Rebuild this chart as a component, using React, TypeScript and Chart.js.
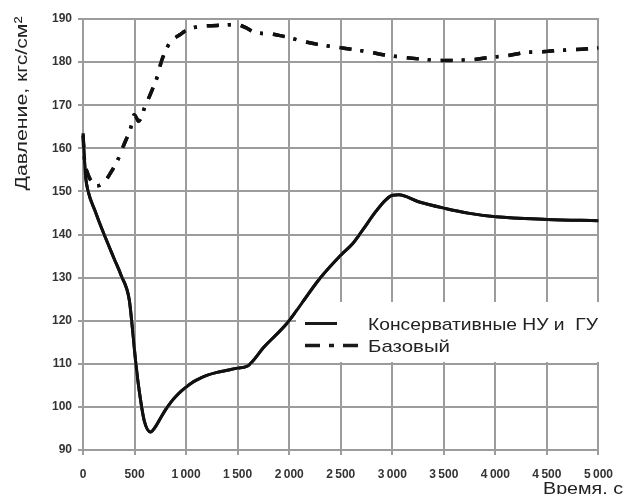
import React, { useEffect, useRef } from 'react';
import { Chart, registerables } from 'chart.js';

Chart.register(...registerables);

// ---- Data ----
const timeCons = [0, 10, 25, 50, 120, 180, 300, 370, 449, 481, 513, 545, 593, 655, 700, 750, 800, 850, 900, 950, 1000, 1050, 1100, 1200, 1300, 1400, 1500, 1596, 1756, 1979, 2297, 2500, 2617, 2712, 2839, 2935, 3005, 3062, 3254, 3505, 3750, 4003, 4503, 5000];
const pressureCons = [163.5, 159, 153.5, 150, 145.3, 141.5, 134.5, 130.5, 124.8, 117.8, 110, 103.8, 96.9, 94.2, 95.3, 97.3, 99.3, 101, 102.4, 103.6, 104.6, 105.5, 106.2, 107.3, 108, 108.5, 109, 109.5, 113.9, 119.4, 129.8, 135.2, 137.9, 141, 145.3, 148, 149.1, 149.2, 147.6, 146.1, 144.9, 144.1, 143.5, 143.2];

const timeBase = [0, 15, 40, 70, 137, 200, 260, 335, 400, 462, 497, 540, 600, 670, 727, 757, 793, 843, 943, 1023, 1141, 1300, 1470, 1530, 1580, 1675, 1794, 1900, 2010, 2122, 2280, 2447, 2600, 2782, 2940, 3110, 3280, 3445, 3600, 3786, 3950, 4114, 4280, 4449, 4620, 4783, 5000];
const pressureBase = [163, 157, 154.5, 152.8, 151.3, 152, 154, 157.2, 161, 164.7, 167.8, 166.3, 169.6, 173.5, 177.1, 179.9, 182.2, 184.5, 186.4, 187.6, 188.3, 188.5, 188.7, 188.5, 188, 186.8, 186.6, 186.2, 185.6, 184.9, 184.1, 183.5, 183, 182.3, 181.6, 181.1, 180.7, 180.4, 180.4, 180.6, 181.1, 181.5, 182.2, 182.4, 182.7, 182.9, 183.3];

const xTickStep = 500;
const xRange = [0, 5000];
const yTickStep = 10;
const yRange = [90, 190];

const seriesLabels = ['Консервативные НУ и  ГУ', 'Базовый'];
const yTitle = 'Давление, кгс/см²';
const xTitle = 'Время, с';

const TEXT_FONT = '"Liberation Sans", Arial, sans-serif';
const GRID_COLOR = '#9c9c9c';

function fmtTick(v: number): string {
  if (v >= 1000) {
    const s = String(v);
    return s.slice(0, s.length - 3) + '\u2009' + s.slice(s.length - 3);
  }
  return String(v);
}

function drawStretched(ctx: CanvasRenderingContext2D, text: string, targetWidth: number) {
  const w = ctx.measureText(text).width;
  ctx.save();
  ctx.scale(targetWidth / w, 1);
  ctx.fillText(text, 0, 0);
  ctx.restore();
}

function drawGridFromScales(chart: any) {
  const ctx: CanvasRenderingContext2D = chart.ctx;
  const sx = chart.scales.x;
  const sy = chart.scales.y;
  const top = Math.round(sy.getPixelForValue(yRange[1]));
  const bottom = Math.round(sy.getPixelForValue(yRange[0]));
  const left = Math.round(sx.getPixelForValue(xRange[0]));
  const right = Math.round(sx.getPixelForValue(xRange[1]));
  ctx.save();
  ctx.strokeStyle = GRID_COLOR;
  ctx.lineWidth = 2;
  ctx.setLineDash([]);
  ctx.beginPath();
  for (const t of sx.ticks) {
    const px = Math.round(sx.getPixelForValue(t.value));
    ctx.moveTo(px, top - 1);
    ctx.lineTo(px, bottom + 5);
  }
  for (const t of sy.ticks) {
    const py = Math.round(sy.getPixelForValue(t.value));
    ctx.moveTo(left - 5, py);
    ctx.lineTo(right + 1, py);
  }
  ctx.stroke();
  ctx.restore();
}

const overlayPlugin = {
  id: 'overlay',
  afterDatasetsDraw(chart: any) {
    const ctx: CanvasRenderingContext2D = chart.ctx;
    // grid (from the chart's scales), then legend background
    drawGridFromScales(chart);
    ctx.save();
    ctx.fillStyle = '#ffffff';
    ctx.fillRect(296, 302, 316, 60);
    ctx.restore();

    // redraw the series on top of the grid
    const area = chart.chartArea;
    ctx.save();
    ctx.beginPath();
    ctx.rect(area.left - 3, area.top - 3, area.right - area.left + 6, area.bottom - area.top + 6);
    ctx.clip();
    for (let i = 0; i < chart.data.datasets.length; i++) {
      const meta = chart.getDatasetMeta(i);
      if (meta && meta.controller) meta.controller.draw();
    }
    ctx.restore();

    // legend
    ctx.save();
    ctx.strokeStyle = '#1a1a1a';
    ctx.lineWidth = 3;
    ctx.setLineDash([]);
    ctx.beginPath();
    ctx.moveTo(305, 323.5);
    ctx.lineTo(337, 323.5);
    ctx.stroke();
    ctx.lineWidth = 3.5;
    ctx.setLineDash([15, 9, 5, 9]);
    ctx.beginPath();
    ctx.moveTo(305, 345.5);
    ctx.lineTo(358, 345.5);
    ctx.stroke();
    ctx.setLineDash([]);
    ctx.fillStyle = '#222222';
    ctx.font = '17px ' + TEXT_FONT;
    ctx.textBaseline = 'alphabetic';
    ctx.textAlign = 'left';
    ctx.save();
    ctx.translate(368, 329.5);
    drawStretched(ctx, seriesLabels[0], 230);
    ctx.restore();
    ctx.save();
    ctx.translate(368, 351.5);
    drawStretched(ctx, seriesLabels[1], 82);
    ctx.restore();

    // axis titles
    ctx.save();
    ctx.translate(543, 493.5);
    drawStretched(ctx, xTitle, 80);
    ctx.restore();

    ctx.save();
    ctx.translate(26.5, 190.5);
    ctx.rotate(-Math.PI / 2);
    drawStretched(ctx, yTitle, 174);
    ctx.restore();
    ctx.restore();
  },
};

export default function App() {
  const canvasRef = useRef<HTMLCanvasElement | null>(null);

  useEffect(() => {
    if (!canvasRef.current) return;
    const consData = timeCons.map((t, i) => ({ x: t, y: pressureCons[i] }));
    const baseData = timeBase.map((t, i) => ({ x: t, y: pressureBase[i] }));

    const tickFont = { family: TEXT_FONT, size: 12, weight: 'bold' as const };

    const chart = new Chart(canvasRef.current, {
      type: 'line',
      data: {
        datasets: [
          {
            label: seriesLabels[0],
            data: consData,
            borderColor: '#111111',
            borderWidth: 3,
            pointRadius: 0,
            cubicInterpolationMode: 'monotone',
            fill: false,
          },
          {
            label: seriesLabels[1],
            data: baseData,
            borderColor: '#111111',
            borderWidth: 3.5,
            borderDash: [12, 9, 3, 10],
            pointRadius: 0,
            cubicInterpolationMode: 'monotone',
            fill: false,
          },
        ],
      },
      options: {
        animation: false,
        responsive: true,
        maintainAspectRatio: false,
        layout: { padding: { top: 19, right: 20, left: 0, bottom: 0 } },
        plugins: {
          legend: { display: false },
          tooltip: { enabled: false },
          title: { display: false },
        },
        scales: {
          x: {
            type: 'linear',
            min: xRange[0],
            max: xRange[1],
            afterFit: (axis: any) => {
              axis.height = 44;
            },
            ticks: {
              stepSize: xTickStep,
              color: '#333333',
              font: tickFont,
              padding: 13,
              maxRotation: 0,
              autoSkip: false,
              callback: (v: any) => fmtTick(Number(v)),
            },
            grid: { display: false, tickLength: 4 },
            border: { display: false },
          },
          y: {
            type: 'linear',
            min: yRange[0],
            max: yRange[1],
            afterFit: (axis: any) => {
              axis.width = 83;
            },
            ticks: {
              stepSize: yTickStep,
              color: '#333333',
              font: tickFont,
              padding: 7,
              autoSkip: false,
              callback: (v: any) => String(v),
            },
            grid: { display: false, tickLength: 4 },
            border: { display: false },
          },
        },
      },
      plugins: [overlayPlugin],
    });
    return () => chart.destroy();
  }, []);

  return (
    <div style={{ position: 'fixed', left: 0, top: 0, width: 626, height: 494, background: '#ffffff' }}>
      <canvas ref={canvasRef} />
    </div>
  );
}
